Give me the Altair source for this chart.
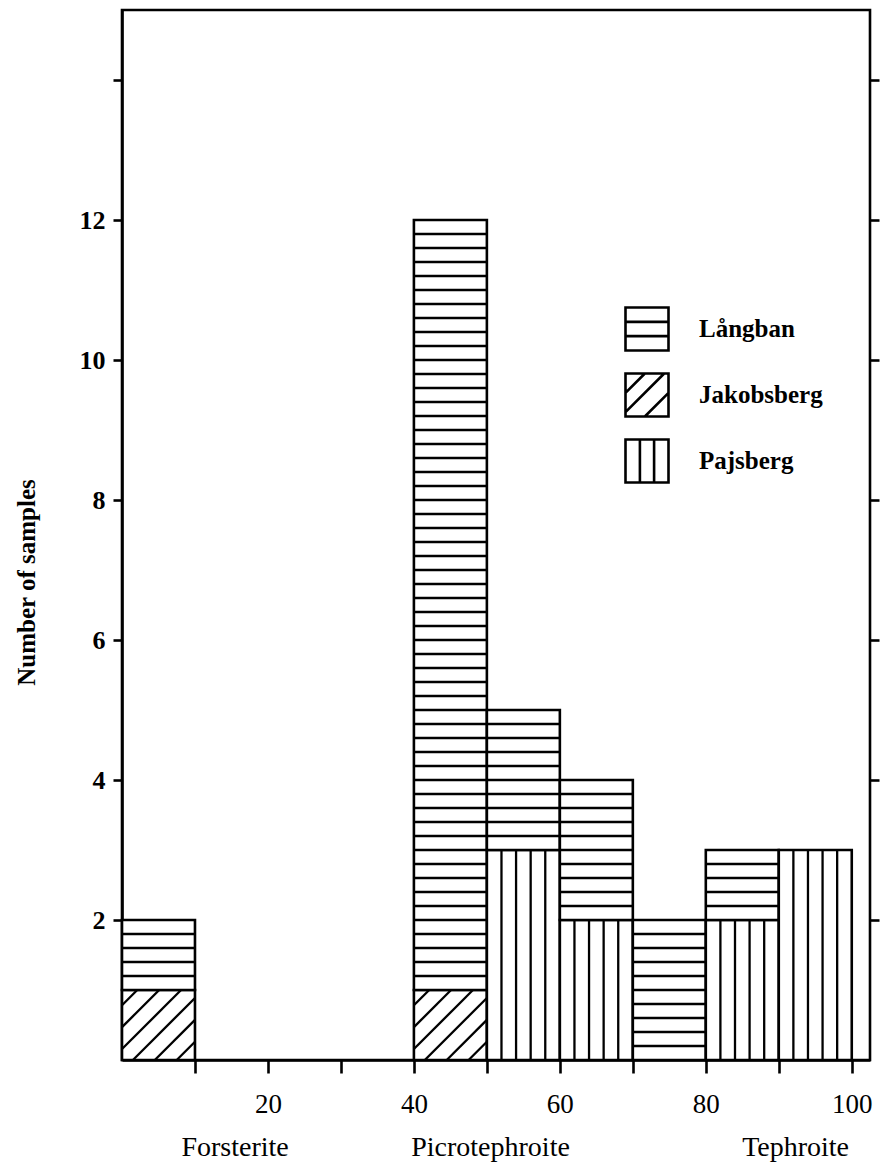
import altair as alt
import pandas as pd
import numpy as np

# ---- data ----
bin_start = [0, 40, 50, 60, 70, 80, 90]
bin_end = [10, 50, 60, 70, 80, 90, 100]
langban = [1, 11, 2, 2, 2, 1, 0]
jakobsberg = [1, 1, 0, 0, 0, 0, 0]
pajsberg = [0, 0, 3, 2, 0, 2, 3]
sites = ["Långban", "Jakobsberg", "Pajsberg"]
x_tick_values = [10, 20, 30, 40, 50, 60, 70, 80, 90, 100]
y_tick_values = [2, 4, 6, 8, 10, 12, 14]
end_members = ["Forsterite", "Picrotephroite", "Tephroite"]
end_member_pos = [15.5, 50.5, 92.3]

# ---- layout constants ----
FONT = "Liberation Serif"
X_DOMAIN = [0, 102.5]
Y_DOMAIN = [0, 15]
WIDTH = 748
HEIGHT = 1050
H_STEP = 0.2      # Långban hatch spacing (y units)
V_STEP = 2.0      # Pajsberg hatch spacing (x units)
D_STEP = 3.0      # Jakobsberg hatch spacing (x units)

# stacked segments
rows = []
for i in range(len(bin_start)):
    base = 0
    for site, counts in (("Jakobsberg", jakobsberg), ("Pajsberg", pajsberg), ("Långban", langban)):
        c = counts[i]
        if c > 0:
            rows.append(dict(site=site, x0=bin_start[i], x1=bin_end[i], y0=base, y1=base + c,
                             xm=(bin_start[i] + bin_end[i]) / 2, ym=base + c / 2))
            base += c
seg = pd.DataFrame(rows)

# hatch lines derived from segments
ratio = (WIDTH / (X_DOMAIN[1] - X_DOMAIN[0])) / (HEIGHT / (Y_DOMAIN[1] - Y_DOMAIN[0]))
hatch = []
for r in rows:
    x0, x1, y0, y1 = r["x0"], r["x1"], r["y0"], r["y1"]
    if r["site"] == "Långban":
        n = int(round((y1 - y0) / H_STEP))
        for k in range(1, n):
            y = y0 + k * H_STEP
            hatch.append(dict(x=x0, x2=x1, y=y, y2=y))
    elif r["site"] == "Pajsberg":
        n = int(round((x1 - x0) / V_STEP))
        for k in range(1, n):
            x = x0 + k * V_STEP
            hatch.append(dict(x=x, x2=x, y=y0, y2=y1))
    else:
        span = (y1 - y0) / ratio
        c = x0 + 1.5 - D_STEP * np.ceil(span / D_STEP)
        while c < x1:
            xs = max(x0, c)
            xe = min(x1, c + span)
            if xe - xs > 0.3:
                hatch.append(dict(x=xs, x2=xe, y=y0 + ratio * (xs - c), y2=y0 + ratio * (xe - c)))
            c += D_STEP
hatch = pd.DataFrame(hatch)

labels_df = pd.DataFrame({"name": end_members, "pos": end_member_pos})

xscale = alt.Scale(domain=X_DOMAIN, nice=False, zero=False)
yscale = alt.Scale(domain=Y_DOMAIN, nice=False)

x_axis = alt.Axis(values=x_tick_values, labelExpr="datum.value % 20 == 0 ? datum.label : ''",
                  tickSize=13, labelPadding=18, labelFontSize=27, labelFont=FONT,
                  title=None, grid=False)

bars = alt.Chart(seg).mark_rect(fill="white", stroke="black", strokeWidth=2.6).encode(
    x=alt.X("x0:Q", scale=xscale, axis=x_axis),
    x2="x1:Q",
    y=alt.Y("y0:Q", scale=yscale,
            axis=alt.Axis(values=y_tick_values, labelExpr="datum.value <= 12 ? datum.label : ''",
                          tickSize=9, labelPadding=8, labelFontSize=26, labelFont=FONT,
                          labelFontWeight="bold",
                          title="Number of samples", titleFont=FONT, titleFontSize=25,
                          titleFontWeight="bold", titlePadding=40, titleY=572, grid=False)),
    y2="y1:Q",
)

lines = alt.Chart(hatch).mark_rule(color="black", strokeWidth=2.3).encode(
    x=alt.X("x:Q", scale=xscale, axis=x_axis),
    x2="x2:Q",
    y=alt.Y("y:Q", scale=yscale,
            axis=alt.Axis(orient="right", values=y_tick_values, labels=False, tickSize=9,
                          title=None, grid=False, domain=False)),
    y2="y2:Q",
)

path_l = "M-1,-1H1V1H-1Z M-1,-0.33H1 M-1,0.33H1"
path_j = "M-1,-1H1V1H-1Z M-1,-0.1L-0.1,-1 M-1,0.8L0.8,-1 M-0.1,1L1,-0.1"
path_p = "M-1,-1H1V1H-1Z M-0.33,-1V1 M0.33,-1V1"

legend_pts = alt.Chart(seg).mark_point(filled=False, color="black", opacity=0, strokeWidth=2.6).encode(
    x=alt.X("xm:Q", scale=xscale, axis=x_axis),
    y=alt.Y("ym:Q", scale=yscale, axis=None),
    shape=alt.Shape("site:N", scale=alt.Scale(domain=sites, range=[path_l, path_j, path_p]),
                    legend=alt.Legend(orient="none", legendX=502, legendY=296, title=None,
                                      symbolSize=1849, symbolStrokeWidth=2.6, symbolStrokeColor="black",
                                      symbolFillColor="white", symbolOpacity=1, padding=0,
                                      labelFont=FONT, labelFontSize=25, labelFontWeight="bold",
                                      labelColor="black", labelOffset=29, rowPadding=12)),
)

text = alt.Chart(labels_df).mark_text(font=FONT, fontSize=28, color="black", baseline="middle").encode(
    x=alt.X("pos:Q", scale=xscale, axis=x_axis),
    y=alt.value(1138),
    text="name:N",
)

chart = alt.layer(bars, lines, legend_pts, text).resolve_axis(y="independent").properties(
    width=WIDTH, height=HEIGHT,
    autosize=alt.AutoSizeParams(type="none"),
    padding={"left": 114, "top": 2, "right": 11, "bottom": 107},
).configure_view(stroke="black", strokeWidth=2.6).configure_axis(
    domainColor="black", domainWidth=2.6, tickColor="black", tickWidth=2.6, labelColor="black",
    titleColor="black",
)

chart.save("out.html", embed_options={"renderer": "svg", "actions": False})
